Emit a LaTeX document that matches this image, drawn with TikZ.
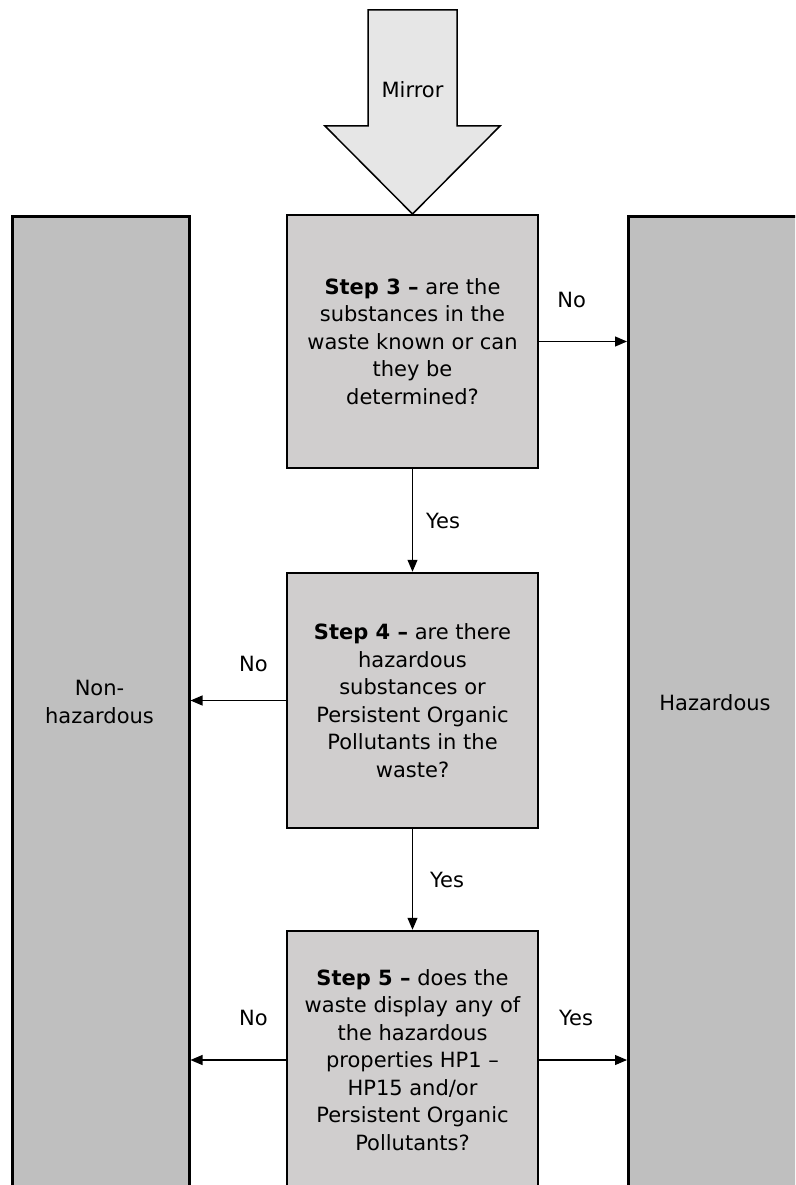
\documentclass[tikz,border=0pt]{standalone}
\usepackage{fontspec}
\setmainfont{DejaVu Sans}
\usetikzlibrary{arrows.meta,calc}
\definecolor{stepfill}{HTML}{D0CECE}
\definecolor{colfill}{HTML}{BFBFBF}
\definecolor{mirrorfill}{HTML}{E6E6E6}
\tikzset{
  txt/.style={font=\fontsize{21}{27.5}\selectfont, align=center},
  stepbox/.style={txt, draw=black, line width=2.5pt, fill=stepfill, minimum width=251pt, minimum height=253pt, inner sep=0pt},
  colbox/.style={txt, draw=black, line width=2.5pt, fill=colfill, inner sep=0pt},
  conn/.style={line width=1.1pt, -{Triangle[length=12pt,width=10pt]}},
  lbl/.style={txt, inner sep=0pt}
}
\begin{document}
\begin{tikzpicture}[x=1pt,y=-1pt]
\useasboundingbox (0,0) rectangle (795,1185);
\clip (0,0) rectangle (795,1185);
\fill[white] (0,0) rectangle (795,1185);
% side columns
\node[colbox, minimum width=177pt, minimum height=1000pt, anchor=north west] (nhbox) at (11,215) {};
\node[lbl] (nh) at (99.5,702) {Non-\\hazardous};
\node[colbox, minimum width=176pt, minimum height=1000pt, anchor=north west] (hzbox) at (627,215) {};
\node[lbl] (hz) at (715,703) {Hazardous};
% mirror arrow
\draw[line width=1.5pt, fill=mirrorfill, line join=miter]
  (368,10) -- (457,10) -- (457,126) -- (500,126) -- (412.5,214) -- (325,126) -- (368,126) -- cycle;
\node[lbl] (mirror) at (412.5,90) {Mirror};
% steps
\node[stepbox] (s3) at (412.5,341.5) {\textbf{Step 3 –} are the\\substances in the\\waste known or can\\they be\\determined?};
\node[stepbox, minimum height=255pt] (s4) at (412.5,700.5) {\textbf{Step 4 –} are there\\hazardous\\substances or\\Persistent Organic\\Pollutants in the\\waste?};
\node[stepbox, minimum height=258pt] (s5) at (412.5,1060) {\textbf{Step 5 –} does the\\waste display any of\\the hazardous\\properties HP1 –\\HP15 and/or\\Persistent Organic\\Pollutants?};
% connectors
\draw[conn] (s3.east) -- (s3.east -| hzbox.west) node[lbl, pos=0.37, above=33pt] {No};
\draw[conn] (s3.south) -- (s4.north) node[lbl, midway, right=13pt] {Yes};
\draw[conn] (s4.west) -- (s4.west -| nhbox.east) node[lbl, pos=0.34, above=28pt] {No};
\draw[conn] (s4.south) -- (s5.north) node[lbl, midway, right=17pt] {Yes};
\draw[conn] (s5.west) -- (s5.west -| nhbox.east) node[lbl, pos=0.34, above=34pt] {No};
\draw[conn] (s5.east) -- (s5.east -| hzbox.west) node[lbl, pos=0.42, above=34pt] {Yes};
\end{tikzpicture}
\end{document}
